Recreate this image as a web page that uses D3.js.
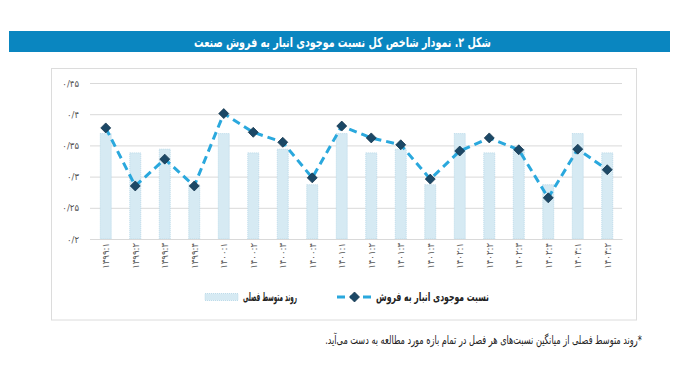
<!DOCTYPE html>
<html><head><meta charset="utf-8">
<script src="https://cdn.jsdelivr.net/npm/d3@7"></script>
<style>body{margin:0;background:#fff;}svg{display:block;}</style>
</head><body>
<script>
const titleText = "شکل ۲. نمودار شاخص کل نسبت موجودی انبار به فروش صنعت";
const categories = ["۱۳۹۹:۱","۱۳۹۹:۲","۱۳۹۹:۳","۱۳۹۹:۴","۱۴۰۰:۱","۱۴۰۰:۲","۱۴۰۰:۳","۱۴۰۰:۴","۱۴۰۱:۱","۱۴۰۱:۲","۱۴۰۱:۳","۱۴۰۱:۴","۱۴۰۲:۱","۱۴۰۲:۲","۱۴۰۲:۳","۱۴۰۲:۴","۱۴۰۳:۱","۱۴۰۳:۲"];
const ratioValues = [0.378,0.285,0.328,0.285,0.401,0.371,0.355,0.298,0.381,0.362,0.351,0.296,0.341,0.362,0.343,0.266,0.344,0.311];
const seasonalAvg = [0.369,0.338,0.344,0.287,0.369,0.338,0.344,0.287,0.369,0.338,0.344,0.287,0.369,0.338,0.344,0.287,0.369,0.338];
const yTicks = [0.2,0.25,0.3,0.35,0.4,0.45];
const yTickLabels = ["۰/۲","۰/۲۵","۰/۳","۰/۳۵","۰/۴","۰/۴۵"];
const legendLine = "نسبت موجودی انبار به فروش";
const legendBar = "روند متوسط فصلی";
const footnote = "*روند متوسط فصلی از میانگین نسبت‌های هر فصل در تمام بازه مورد مطالعه به دست می‌آید.";

const W = 691, H = 378;
const svg = d3.select("body").append("svg").attr("width", W).attr("height", H);
const font = "'DejaVu Sans Condensed', 'DejaVu Sans', sans-serif";

// place RTL text with its right edge at xr, scaled horizontally to width w
function rtlText(xr, yb, w, size, weight, fill, str) {
  const g = svg.append("g");
  const t = g.append("text").attr("x",0).attr("y",0).attr("text-anchor","middle").attr("direction","rtl")
    .attr("font-family",font).attr("font-weight",weight).attr("font-size",size).attr("fill",fill).text(str);
  const len = t.node().getComputedTextLength();
  const k = w / len;
  g.attr("transform",`translate(${xr - w/2},${yb}) scale(${k},1)`);
  return g;
}

// title bar
svg.append("rect").attr("x",9).attr("y",31).attr("width",661).attr("height",21).attr("fill","#0a86c0");
rtlText(491, 46.5, 297, 13.5, "bold", "#fff", titleText);

// frame
svg.append("rect").attr("x",51.5).attr("y",68.5).attr("width",585).attr("height",251.5)
  .attr("fill","none").attr("stroke","#dcdcdc").attr("stroke-width",1);

const x = d3.scaleBand().domain(categories).range([91, 622]);
const y = d3.scaleLinear().domain([0.2, 0.45]).range([239, 83]);

// grid
const yAxis = d3.axisLeft(y).tickValues(yTicks).tickSize(-(622-90)).tickFormat((d,i)=>yTickLabels[i]).tickPadding(11);
const gy = svg.append("g").attr("transform","translate(90,0)").call(yAxis);
gy.select(".domain").remove();
gy.selectAll(".tick line").attr("stroke","#d9d9d9");
gy.selectAll(".tick text").attr("font-family",font).attr("font-size",9.5).attr("fill","#555");

// bars
const bw = 11;
svg.append("g").selectAll("rect").data(seasonalAvg).join("rect")
  .attr("x",(d,i)=>x(categories[i]) + x.bandwidth()/2 - bw/2)
  .attr("y",d=>y(d)).attr("width",bw).attr("height",d=>y(0.2)-y(d))
  .attr("fill","#d6eaf3").attr("stroke","#b3d5e6").attr("stroke-width",0.8).attr("stroke-dasharray","1,1");

// x axis
const xAxis = d3.axisBottom(x).tickSize(0).tickPadding(0);
const gx = svg.append("g").attr("transform","translate(0,239)").call(xAxis);
gx.select(".domain").attr("stroke","#d9d9d9");
gx.selectAll(".tick text").attr("font-family",font).attr("font-size",9.5).attr("fill","#555")
  .attr("transform","rotate(-90)").attr("text-anchor","end").attr("dy","0.35em").attr("x",-4).attr("y",0)
  .attr("direction","ltr");

// line
const cx = (d,i)=>x(categories[i]) + x.bandwidth()/2;
const line = d3.line().x(cx).y(d=>y(d));
svg.append("path").datum(ratioValues).attr("d",line).attr("fill","none")
  .attr("stroke","#2aa8dd").attr("stroke-width",3).attr("stroke-dasharray","8,5");
const sym = d3.symbol().type(d3.symbolSquare).size(50);
svg.append("g").selectAll("path").data(ratioValues).join("path")
  .attr("d",sym).attr("transform",(d,i)=>`translate(${cx(d,i)},${y(d)}) rotate(45)`)
  .attr("fill","#1c4866").attr("stroke","#12324a").attr("stroke-width",0.7);

// legend
const ly = 297;
svg.append("path").attr("d",`M337,${ly}H372`).attr("stroke","#2aa8dd").attr("stroke-width",3).attr("stroke-dasharray","8,5").attr("fill","none");
svg.append("path").attr("d",sym).attr("transform",`translate(354.5,${ly}) rotate(45)`).attr("fill","#1c4866").attr("stroke","#12324a").attr("stroke-width",0.7);
rtlText(489, ly+4, 113, 12, "bold", "#222", legendLine);
svg.append("rect").attr("x",205).attr("y",ly-3.5).attr("width",33).attr("height",7)
  .attr("fill","#d6eaf3").attr("stroke","#b3d5e6").attr("stroke-width",0.8).attr("stroke-dasharray","1,1");
rtlText(297, ly+4, 54, 12, "bold", "#222", legendBar);

// footnote
rtlText(642, 344, 317, 12, "normal", "#222", footnote);
</script>
</body></html>
